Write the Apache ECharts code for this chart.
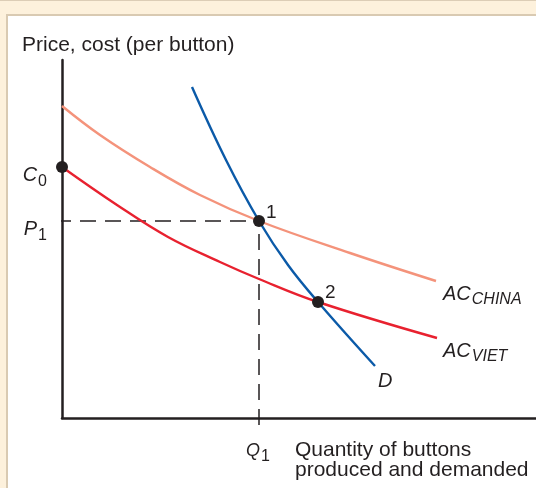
<!DOCTYPE html>
<html>
<head>
<meta charset="utf-8">
<script src="https://cdn.jsdelivr.net/npm/echarts@6/dist/echarts.min.js"></script>
<style>
  html, body { margin: 0; padding: 0; background: #fdf1dc; }
  #main { width: 536px; height: 488px; }
</style>
</head>
<body>
<div id="main"></div>
<script>
// 读图得到的曲线数据（横轴：数量，纵轴：价格/成本）
var chinaX = [0, 38, 88, 138, 197, 288, 374];
var chinaY = [312, 283, 251, 223, 197, 165, 137];
var vietX = [0, 55, 106, 158, 197, 256, 375];
var vietY = [251, 213, 181, 156, 139, 116, 80];
var demandX = [130, 164, 197, 226, 256, 313];
var demandY = [331, 258, 197, 153, 116, 52];

// 关键点：C0、点1、点2
var pointX = [0, 197, 256];
var pointY = [251, 197, 116];
var pointNames = ['C0', '1', '2'];

var Q1 = 197, P1 = 197;
var xMax = 474, yMax = 358;

var ink = '#231f20';
var font = "'Liberation Sans', Arial, Helvetica, sans-serif";

function zip(xs, ys) {
  var out = [];
  for (var i = 0; i < xs.length; i++) out.push([xs[i], ys[i]]);
  return out;
}

var subRich = {
  i: { fontStyle: 'italic', fontSize: 20, color: ink, fontFamily: font, verticalAlign: 'bottom', lineHeight: 22 },
  q: { fontStyle: 'italic', fontSize: 18, color: ink, fontFamily: font, verticalAlign: 'bottom', lineHeight: 22 },
  s: { fontSize: 16, color: ink, fontFamily: font, verticalAlign: 'top', padding: [11, 0, 0, 1], lineHeight: 22 },
  si: { fontSize: 16, fontStyle: 'italic', color: ink, fontFamily: font, verticalAlign: 'top', padding: [10, 0, 0, 1], lineHeight: 22 }
};

var chart = echarts.init(document.getElementById('main'), null, { renderer: 'canvas' });

var option = {
  animation: false,
  backgroundColor: 'transparent',
  graphic: [
    { type: 'rect', silent: true, z: -10, shape: { x: 0, y: 0, width: 536, height: 1 }, style: { fill: '#dccdb6' } },
    { type: 'rect', silent: true, z: -10, shape: { x: 6, y: 14, width: 530, height: 474 }, style: { fill: '#d9cab2' } },
    { type: 'rect', silent: true, z: -9, shape: { x: 8, y: 16, width: 528, height: 472 }, style: { fill: '#ffffff' } }
  ],
  title: [
    {
      text: 'Price, cost (per button)', left: 22, top: 35, padding: 0,
      textStyle: { fontSize: 21, fontWeight: 'normal', color: ink, fontFamily: font }
    },
    {
      text: 'Quantity of buttons\nproduced and demanded', left: 295, top: 440, padding: 0,
      textStyle: { fontSize: 21, lineHeight: 20, fontWeight: 'normal', color: ink, fontFamily: font }
    }
  ],
  grid: { left: 62, right: 0, top: 60, bottom: 70, containLabel: false },
  xAxis: {
    type: 'value', min: 0, max: xMax,
    axisLine: { show: true, onZero: false, lineStyle: { color: ink, width: 2.5 } },
    axisTick: { show: false }, axisLabel: { show: false }, splitLine: { show: false }
  },
  yAxis: {
    type: 'value', min: 0, max: yMax,
    axisLine: { show: true, onZero: false, lineStyle: { color: ink, width: 2.5 } },
    axisTick: { show: false }, axisLabel: { show: false }, splitLine: { show: false }
  },
  series: [
    {
      name: 'P1', type: 'line', clip: false, silent: true, symbol: 'none',
      data: [[-7, P1], [Q1, P1]],
      lineStyle: { color: ink, width: 1.5, type: [16, 9] }
    },
    {
      name: 'Q1', type: 'line', clip: false, silent: true, symbol: 'none',
      data: [[Q1, -7], [Q1, P1]],
      lineStyle: { color: ink, width: 1.5, type: [16, 9] }
    },
    {
      name: 'AC_CHINA', type: 'line', smooth: 0.4, symbol: 'none', clip: false,
      data: zip(chinaX, chinaY),
      lineStyle: { color: '#f4937b', width: 2.4 },
      endLabel: { show: true, formatter: '{i|AC}{si|CHINA}', offset: [-1, 12], rich: subRich }
    },
    {
      name: 'AC_VIET', type: 'line', smooth: 0.4, symbol: 'none', clip: false,
      data: zip(vietX, vietY),
      lineStyle: { color: '#e8212f', width: 2.4 },
      endLabel: { show: true, formatter: '{i|AC}{si|VIET}', offset: [-2, 12], rich: subRich }
    },
    {
      name: 'D', type: 'line', smooth: 0.4, symbol: 'none', clip: false,
      data: zip(demandX, demandY),
      lineStyle: { color: '#0b5aa8', width: 2.4 },
      endLabel: { show: true, formatter: '{i|D}', offset: [-5, 14], rich: subRich }
    },
    {
      name: 'points', type: 'scatter', symbolSize: 12, clip: false, z: 5,
      itemStyle: { color: ink, opacity: 1 },
      data: [
        { value: [pointX[0], pointY[0]], label: { show: true, position: 'left', distance: 9, offset: [0, 7], formatter: '{i|C}{s|0}', rich: subRich } },
        { value: [pointX[1], pointY[1]], label: { show: true, position: 'right', distance: 2, offset: [-1, -8], formatter: pointNames[1], fontSize: 19, color: ink, fontFamily: font, opacity: 1 } },
        { value: [pointX[2], pointY[2]], label: { show: true, position: 'right', distance: 2, offset: [-1, -9], formatter: pointNames[2], fontSize: 19, color: ink, fontFamily: font, opacity: 1 } }
      ]
    },
    {
      name: 'axisLabels', type: 'scatter', symbolSize: 0, clip: false, silent: true,
      itemStyle: { opacity: 1 },
      data: [
        { value: [0, P1], label: { show: true, position: 'left', distance: 16, offset: [1, 7], formatter: '{i|P}{s|1}', rich: subRich } },
        { value: [Q1, 0], label: { show: true, position: 'bottom', distance: 20, offset: [-1, 0], formatter: '{q|Q}{s|1}', rich: subRich } }
      ]
    }
  ]
};

chart.setOption(option);
</script>
</body>
</html>
